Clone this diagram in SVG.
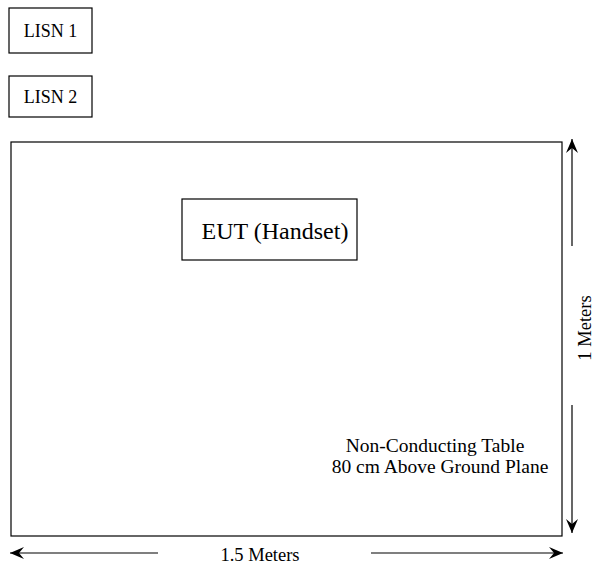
<svg xmlns="http://www.w3.org/2000/svg" width="595" height="566" viewBox="0 0 595 566">
<style>
.box{fill:#fff;stroke:#000;stroke-width:1.2}
.t{font-family:"Liberation Serif",serif;fill:#000}
.ln{stroke:#000;stroke-width:1.2;fill:none}
</style>
<defs>
<marker id="ah" viewBox="0 0 14 12" refX="14" refY="6" markerWidth="14" markerHeight="12" markerUnits="userSpaceOnUse" orient="auto">
<path d="M0,0 L14,6 L0,12 L5,6 z" fill="#000"/>
</marker>
</defs>
<rect width="595" height="566" fill="#fff"/>
<g id="lisn1"><rect class="box" x="9" y="8" width="83" height="45"/><text class="t" x="50.5" y="37" font-size="18" text-anchor="middle">LISN 1</text></g>
<g id="lisn2"><rect class="box" x="9" y="76" width="83" height="41"/><text class="t" x="50.5" y="103" font-size="18" text-anchor="middle">LISN 2</text></g>
<g id="table"><rect class="box" x="11" y="142" width="551" height="394"/>
<text class="t" font-size="19.5" text-anchor="middle"><tspan x="435" y="452">Non-Conducting Table</tspan><tspan x="440" y="473">80 cm Above Ground Plane</tspan></text></g>
<g id="eut"><rect class="box" x="182" y="199" width="175" height="61"/><text class="t" x="275" y="239" font-size="24" text-anchor="middle">EUT (Handset)</text></g>
<g id="connectors">
<line class="ln" x1="572" y1="246" x2="572" y2="139" marker-end="url(#ah)"/>
<line class="ln" x1="572" y1="405" x2="572" y2="533" marker-end="url(#ah)"/>
<line class="ln" x1="158" y1="553" x2="10" y2="553" marker-end="url(#ah)"/>
<line class="ln" x1="371" y1="553" x2="563" y2="553" marker-end="url(#ah)"/>
</g>
<text class="t" font-size="18.5" text-anchor="middle" transform="translate(591,328) rotate(-90)">1 Meters</text>
<text class="t" x="260" y="561" font-size="18.5" text-anchor="middle">1.5 Meters</text>
</svg>
